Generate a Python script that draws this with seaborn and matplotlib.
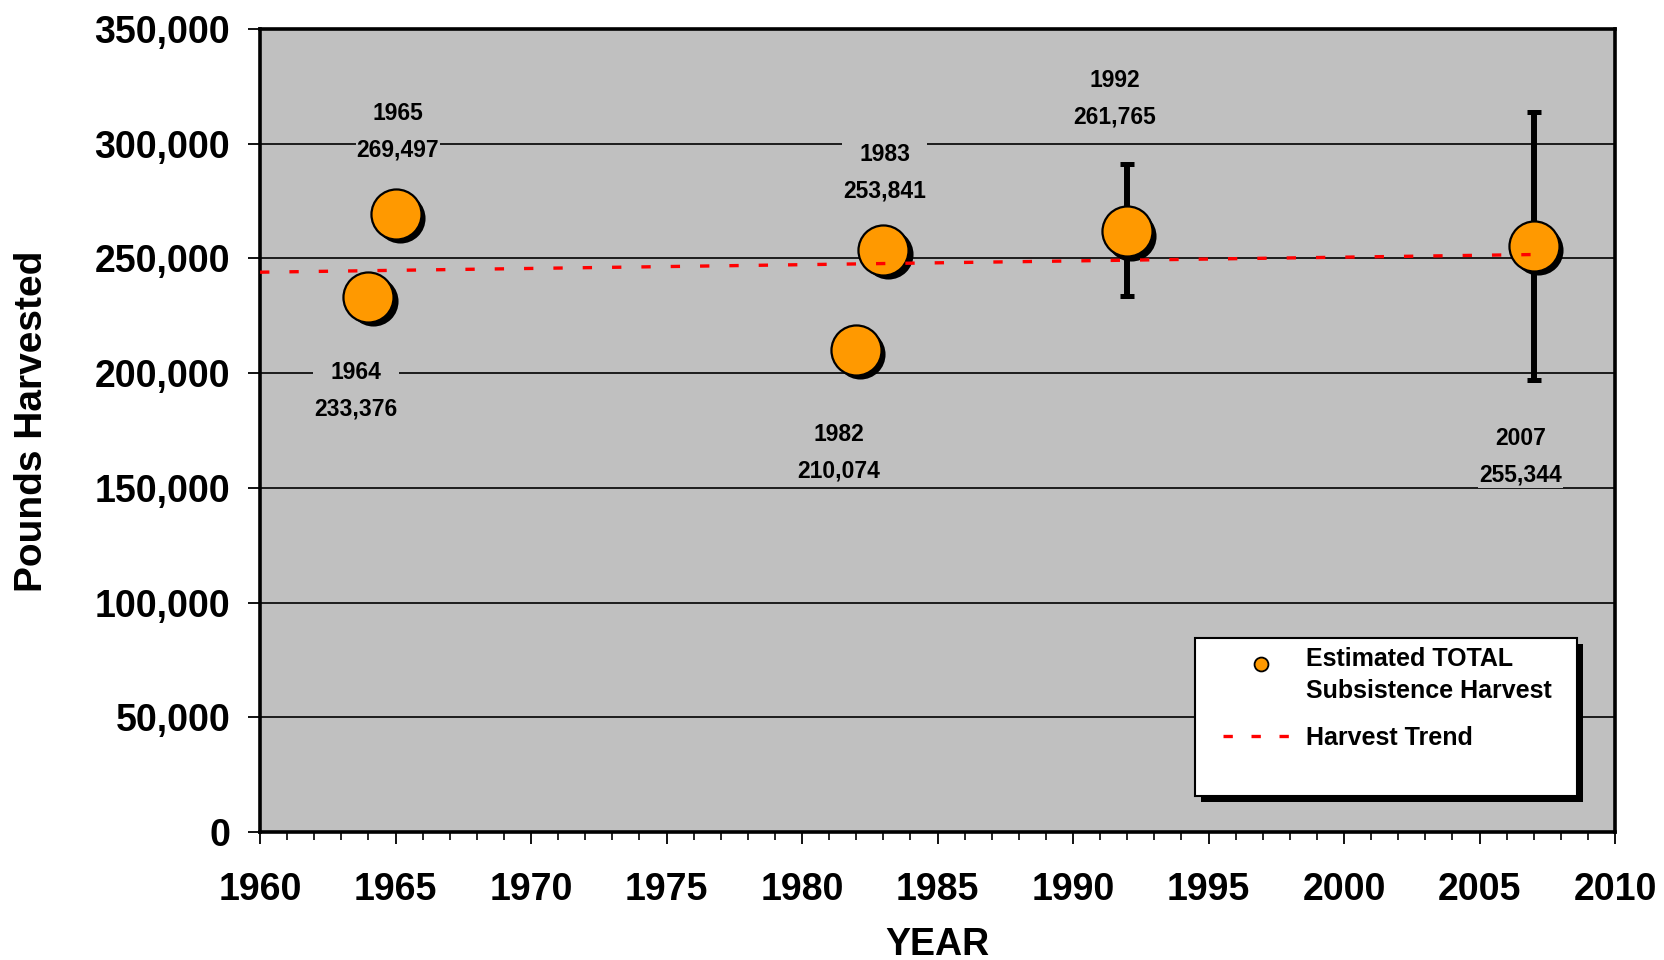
import matplotlib
matplotlib.use("Agg")
import matplotlib.pyplot as plt
import matplotlib.transforms as mtransforms
from matplotlib.lines import Line2D
from matplotlib.patches import Rectangle
from matplotlib.legend_handler import HandlerLine2D
from matplotlib.ticker import MultipleLocator, FuncFormatter
import pandas as pd
import seaborn as sns

# harvest survey years and estimated totals (lbs)
years = [1964, 1965, 1982, 1983, 1992, 2007]
pounds = [233376, 269497, 210074, 253841, 261765, 255344]

# confidence ranges only exist for the two recent surveys
err_years = [1992, 2007]
err_center = [261765, 255344]
err_low = [233600, 197000]
err_high = [291200, 314000]

# trend line end points
trend_years = [1960, 2007]
trend_pounds = [244000, 251700]

# where each "year / value" label sits (hand placed, data units)
label_x = [1963.53, 1965.09, 1981.36, 1983.05, 1991.55, 2006.52]
label_y = [192300, 305000, 165500, 287200, 319600, 163600]

FONT = ["Liberation Sans", "DejaVu Sans"]
GREY = "#C0C0C0"
ORANGE = "#FF9900"

sns.set_theme(style="ticks", rc={"text.color": "black", "axes.labelcolor": "black",
                                 "xtick.color": "black", "ytick.color": "black"})
plt.rcParams["font.family"] = FONT
plt.rcParams["font.weight"] = "bold"


class TopLineHandler(HandlerLine2D):
    # put the legend marker level with the first text line, like Excel does
    def create_artists(self, legend, orig_handle, xdescent, ydescent, width, height, fontsize, trans):
        arts = super().create_artists(legend, orig_handle, xdescent, ydescent, width, height, fontsize, trans)
        for a in arts:
            a.set_ydata([y + 8 for y in a.get_ydata()])
        return arts


df = pd.DataFrame({"year": years, "pounds": pounds})
trend = pd.DataFrame({"year": trend_years, "pounds": trend_pounds})

fig = plt.figure(figsize=(16.65, 9.6), dpi=100)
ax = fig.add_axes([0.1562, 0.1333, 0.8138, 0.8365])
ax.set_facecolor(GREY)

# error bars sit behind the circles
yerr = [[c - lo for c, lo in zip(err_center, err_low)],
        [hi - c for c, hi in zip(err_center, err_high)]]
ax.errorbar(err_years, err_center, yerr=yerr, fmt="none", ecolor="black",
            elinewidth=4.3, capsize=5, capthick=3.6, zorder=3)

# drop shadow under the markers
shadow = mtransforms.offset_copy(ax.transData, fig=fig, x=3, y=-3, units="points")
sns.scatterplot(data=df, x="year", y="pounds", s=1300, color="black",
                edgecolor="black", linewidth=0, transform=shadow, zorder=4, ax=ax, legend=False)
sns.scatterplot(data=df, x="year", y="pounds", s=1300, color=ORANGE,
                edgecolor="black", linewidth=1.6, zorder=5, ax=ax, legend=False)

sns.lineplot(data=trend, x="year", y="pounds", color="red", lw=2.4,
             dashes=False, ax=ax, zorder=6)
ax.lines[-1].set_linestyle((0, (2.8, 6.0)))

for yr, val, lx, ly in zip(years, pounds, label_x, label_y):
    ax.text(lx, ly, f"{yr}\n{val:,}", ha="center", va="center", ma="center",
            family=FONT, fontsize=16.5, fontweight="bold", linespacing=1.75,
            bbox=dict(boxstyle="square,pad=0.05", fc=GREY, ec="none"), zorder=7)

ax.set_xlim(1960, 2010)
ax.set_ylim(0, 350000)
ax.xaxis.set_major_locator(MultipleLocator(5))
ax.xaxis.set_minor_locator(MultipleLocator(1))
ax.yaxis.set_major_locator(MultipleLocator(50000))
ax.yaxis.set_major_formatter(FuncFormatter(lambda v, p: f"{v:,.0f}"))

ax.yaxis.grid(True, color="black", lw=1.2)
ax.xaxis.grid(False)
ax.set_axisbelow(True)

for s in ax.spines.values():
    s.set_visible(True)
    s.set_color("black")
    s.set_linewidth(2.6)

ax.tick_params(axis="both", which="major", direction="out", length=8.6, width=1.3,
               color="black", labelsize=27)
ax.tick_params(axis="x", which="minor", direction="out", length=6, width=1.2, color="black")
ax.tick_params(axis="x", which="major", pad=20)
ax.tick_params(axis="y", which="major", pad=13)
for t in ax.get_xticklabels() + ax.get_yticklabels():
    t.set_fontweight("bold")

ax.set_xlabel("YEAR", fontsize=27, fontweight="bold", labelpad=14)
ax.set_ylabel("Pounds Harvested", fontsize=28, fontweight="bold", labelpad=32)
ax.yaxis.label.set_y(0.512)

# legend box with a hard black shadow
ax.add_patch(Rectangle((0.6945, 0.0373), 0.282, 0.197, transform=ax.transAxes,
                       fc="black", ec="none", zorder=8))
ax.add_patch(Rectangle((0.690, 0.0448), 0.282, 0.197, transform=ax.transAxes,
                       fc="white", ec="black", lw=1.5, zorder=9))
dot = Line2D([], [], ls="none", marker="o", markersize=10, markerfacecolor=ORANGE,
             markeredgecolor="black", markeredgewidth=1.3)
dash = Line2D([], [], color="red", lw=2.4, ls=(0, (2.8, 5.6)))
leg = ax.legend([dot, dash], ["Estimated TOTAL\nSubsistence Harvest", "Harvest Trend"],
                loc="upper left", bbox_to_anchor=(0.7107, 0.231), frameon=False,
                borderpad=0, borderaxespad=0, handlelength=3.0, handletextpad=0.3,
                labelspacing=0.9, prop={"size": 18, "weight": "bold"},
                handler_map={dot: TopLineHandler()})
for t in leg.get_texts():
    t.set_linespacing(1.45)
leg.set_zorder(10)

fig.savefig("out.png", dpi=100)
